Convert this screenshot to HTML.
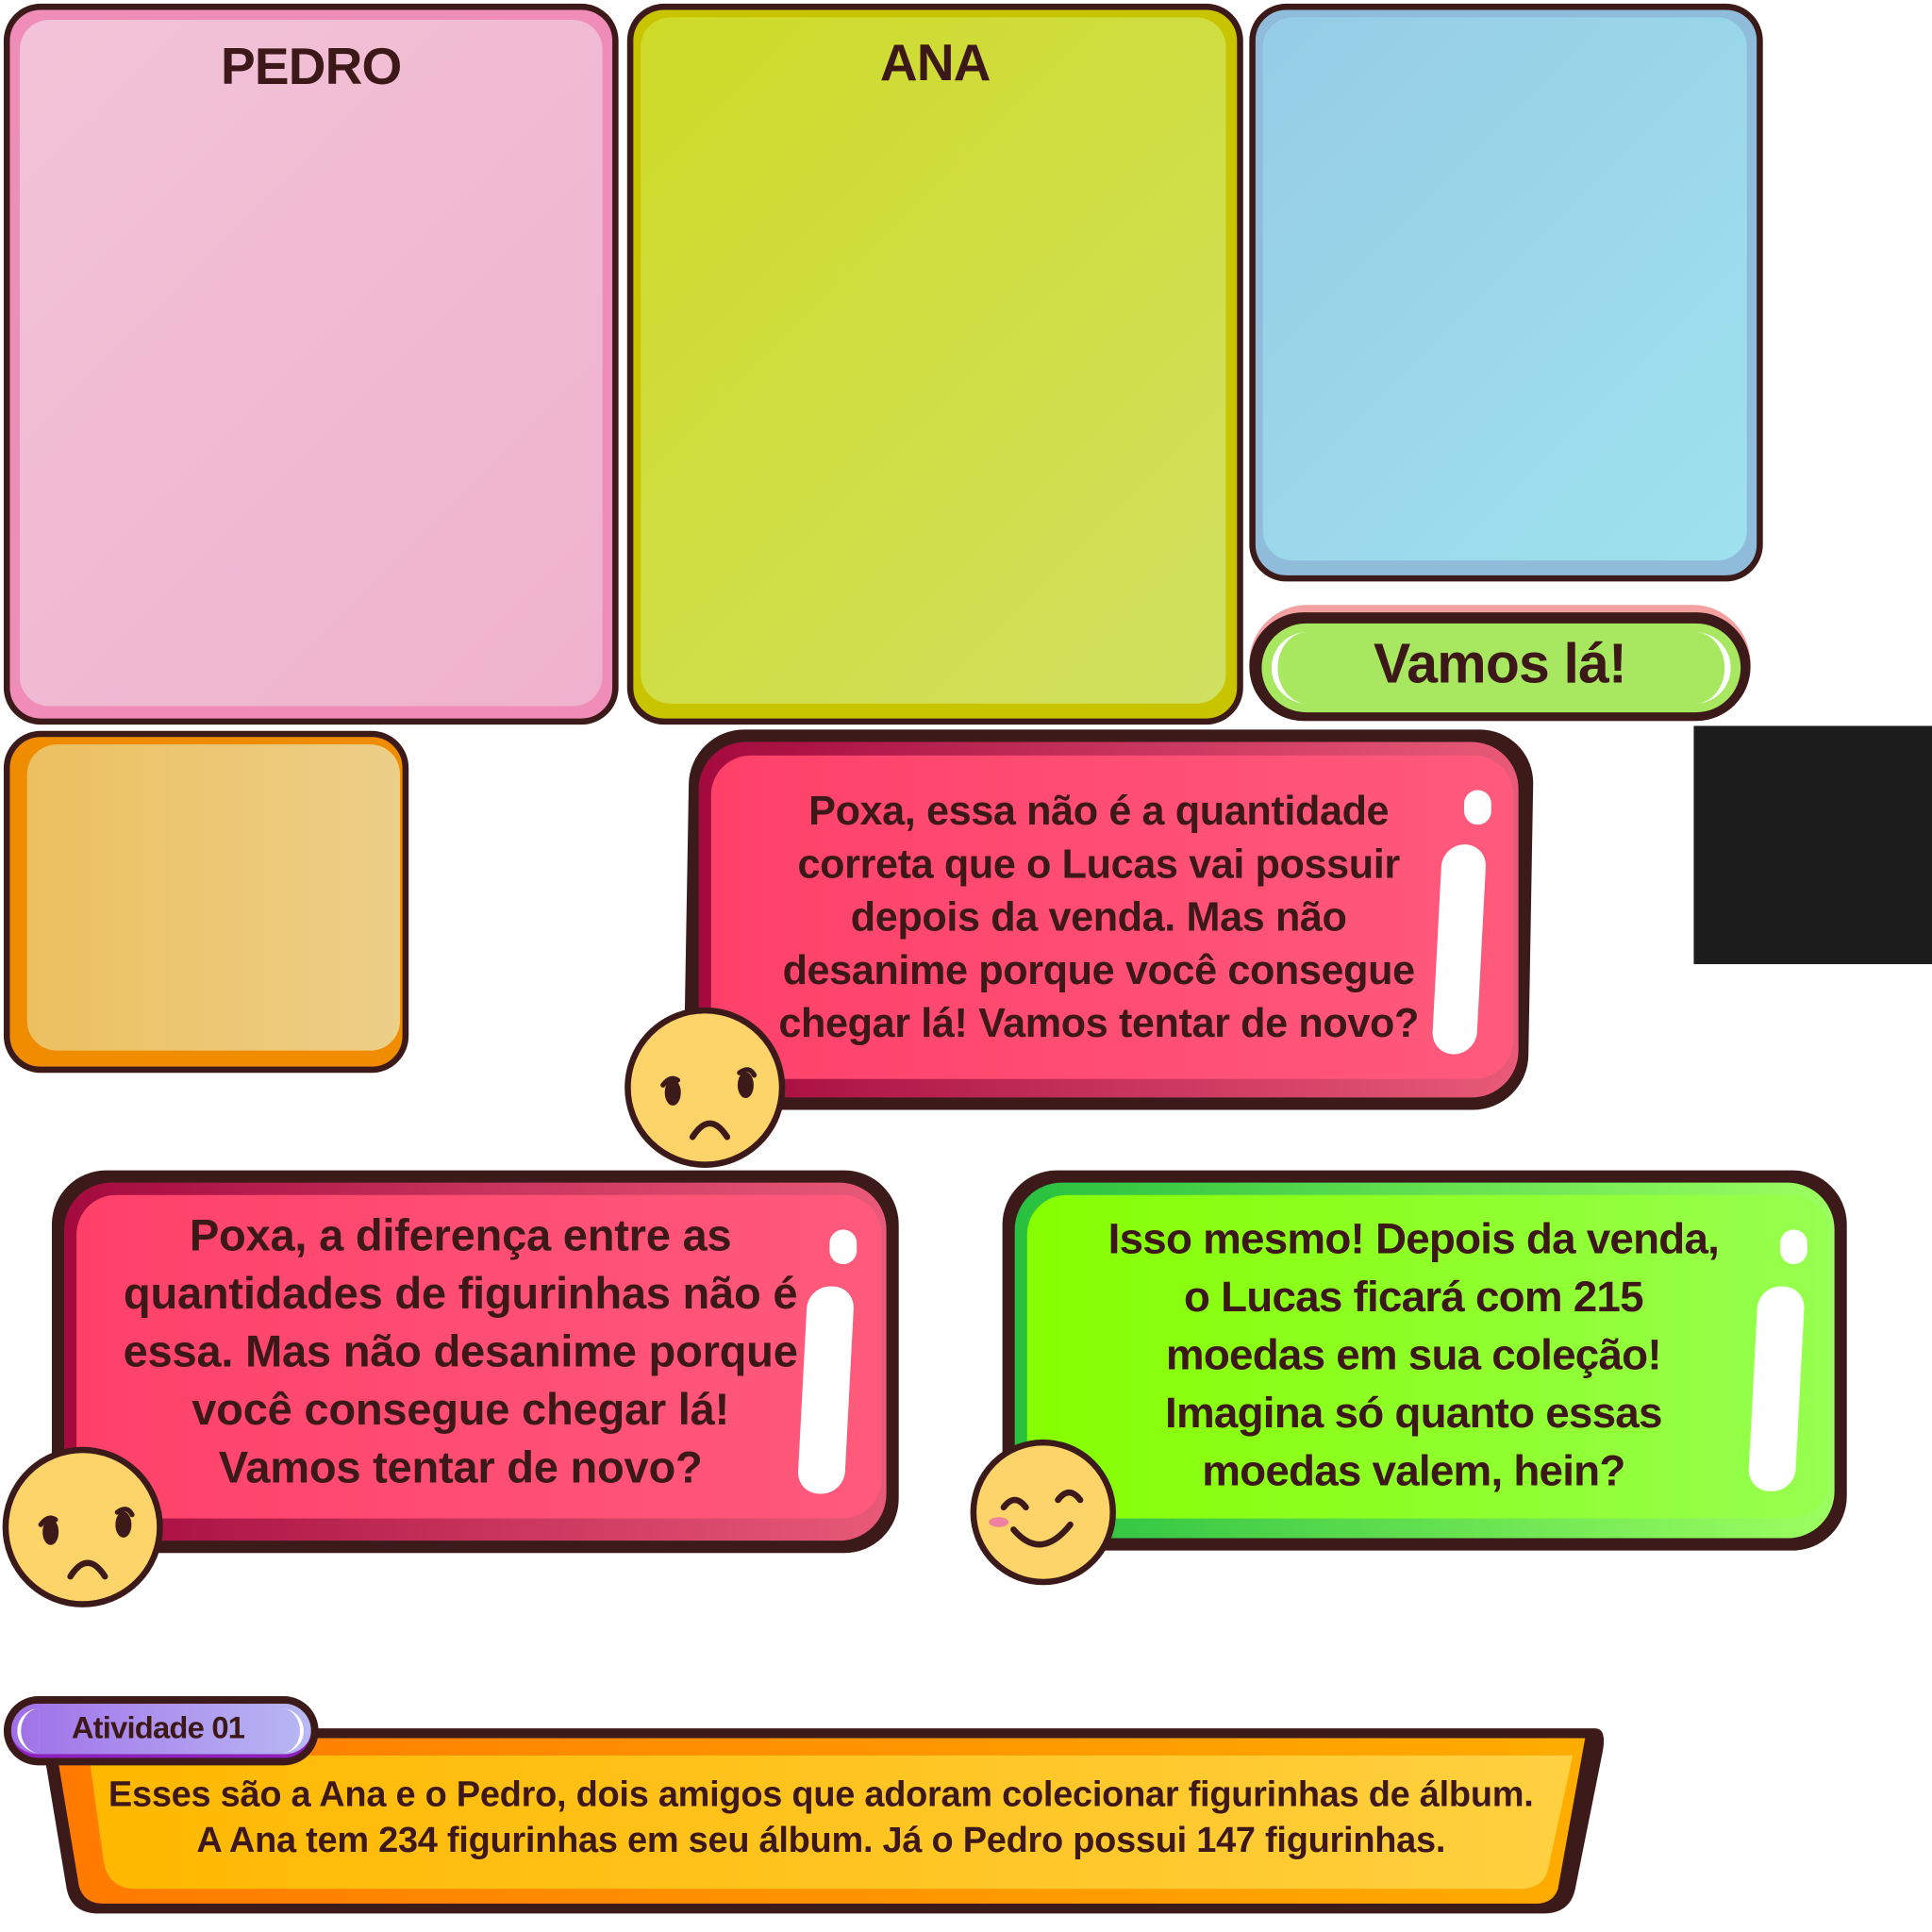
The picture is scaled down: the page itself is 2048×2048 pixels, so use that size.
<!DOCTYPE html>
<html><head><meta charset="utf-8"><style>
html,body{margin:0;padding:0;background:#fff;width:2048px;height:2048px;overflow:hidden}
#w{position:absolute;left:0;top:0;width:1565px;height:1565px;transform:scale(1.30863);transform-origin:0 0;font-family:"Liberation Sans",sans-serif;font-weight:bold;color:#3d1818}
.a{position:absolute;box-sizing:border-box}
.card{border:5px solid #3d1a1a;border-radius:30px;overflow:hidden}
.in{position:absolute;border-radius:24px}
.t{position:absolute;text-align:center;letter-spacing:-0.6px;white-space:nowrap}
.face{position:absolute;border-radius:50%;background:#fdd46a;border:5px solid #3d1a1a;box-sizing:border-box}
.gl{position:absolute;background:#fff;border-radius:12px}
</style></head><body><div id="w">

<div class="a card" style="left:3px;top:3px;width:498px;height:584px;background:#f08cb8">
 <div class="in" style="left:8px;top:8px;width:472px;height:556px;background:linear-gradient(135deg,#f2c3d8,#efb2cd)"></div>
</div>
<div class="t" style="left:3px;top:30px;width:498px;font-size:42px">PEDRO</div>

<div class="a card" style="left:508px;top:3px;width:499px;height:584px;background:#c8c400">
 <div class="in" style="left:6px;top:6px;width:474px;height:556px;background:linear-gradient(135deg,#cfdb28,#d0e060)"></div>
</div>
<div class="t" style="left:508px;top:27px;width:499px;font-size:42px">ANA</div>

<div class="a card" style="left:1012px;top:3px;width:416px;height:468px;background:#90bcdc">
 <div class="in" style="left:6px;top:6px;width:392px;height:440px;background:linear-gradient(135deg,#96cce6,#9ee2ee)"></div>
</div>

<div class="a" style="left:1012px;top:490px;width:406px;height:94px;border-radius:47px;background:#f4a0a0"></div>
<div class="a" style="left:1012px;top:496px;width:406px;height:88px;border-radius:44px;background:#3d1a1a"></div>
<div class="a" style="left:1022px;top:505px;width:388px;height:72px;border-radius:36px;background:#a8e860"></div>
<div class="a" style="left:1030px;top:512px;width:30px;height:58px;border-left:5px solid #fff;border-radius:30px 0 0 30px"></div>
<div class="a" style="left:1372px;top:512px;width:30px;height:58px;border-right:5px solid #fff;border-radius:0 30px 30px 0"></div>
<div class="t" style="left:1012px;top:512px;width:406px;font-size:45px">Vamos lá!</div>

<div class="a card" style="left:3px;top:592px;width:328px;height:277px;background:#f08c00">
 <div class="in" style="left:14px;top:6px;width:302px;height:248px;background:linear-gradient(90deg,#ecc060,#eccf88)"></div>
</div>

<div class="a" style="left:1372px;top:588px;width:193px;height:193px;background:#1c1c1c"></div>

<div class="a" style="left:556px;top:591px;width:684px;height:308px;border-radius:44px;background:#3d1a1a;transform:skewX(-1deg)"></div>
<div class="a" style="left:566px;top:601px;width:664px;height:288px;border-radius:38px;background:linear-gradient(90deg,#a40a3e,#e85a78)"></div>
<div class="a" style="left:576px;top:612px;width:650px;height:262px;border-radius:32px;background:linear-gradient(90deg,#ff416a,#ff5a7c)"></div>
<div class="gl" style="left:1186px;top:640px;width:22px;height:28px"></div>
<div class="gl" style="left:1164px;top:684px;width:36px;height:170px;transform:skewX(-3deg);border-radius:18px"></div>
<div class="t" style="left:600px;top:635px;width:580px;font-size:33px;line-height:43px;letter-spacing:-0.3px">Poxa, essa não é a quantidade<br>correta que o Lucas vai possuir<br>depois da venda. Mas não<br>desanime porque você consegue<br>chegar lá! Vamos tentar de novo?</div>
<div class="face" style="left:506px;top:816px;width:130px;height:130px">
 <svg width="120" height="120" style="position:absolute;left:0;top:0"><g fill="#3d1a1a" stroke="#3d1a1a" stroke-linecap="round">
 <ellipse cx="34" cy="64" rx="6" ry="10"/><ellipse cx="93" cy="58" rx="6" ry="10"/>
 <path d="M26 58 q6-8 12-4" fill="none" stroke-width="4"/><path d="M88 48 q8-6 12 2" fill="none" stroke-width="4"/>
 <path d="M50 100 q14-22 28 0" fill="none" stroke-width="5"/></g></svg>
</div>

<div class="a" style="left:42px;top:948px;width:686px;height:310px;border-radius:44px;background:#3d1a1a"></div>
<div class="a" style="left:52px;top:958px;width:666px;height:290px;border-radius:38px;background:linear-gradient(90deg,#a40a3e,#e85a78)"></div>
<div class="a" style="left:62px;top:968px;width:652px;height:262px;border-radius:32px;background:linear-gradient(90deg,#ff416a,#ff5a7c)"></div>
<div class="gl" style="left:672px;top:996px;width:22px;height:28px"></div>
<div class="gl" style="left:650px;top:1042px;width:38px;height:168px;transform:skewX(-3deg);border-radius:18px"></div>
<div class="t" style="left:70px;top:977px;width:606px;font-size:36px;line-height:47px;letter-spacing:-0.2px">Poxa, a diferença entre as<br>quantidades de figurinhas não é<br>essa. Mas não desanime porque<br>você consegue chegar lá!<br>Vamos tentar de novo?</div>
<div class="face" style="left:2px;top:1172px;width:130px;height:130px">
 <svg width="120" height="120" style="position:absolute;left:0;top:0"><g fill="#3d1a1a" stroke="#3d1a1a" stroke-linecap="round">
 <ellipse cx="34" cy="64" rx="6" ry="10"/><ellipse cx="93" cy="58" rx="6" ry="10"/>
 <path d="M26 58 q6-8 12-4" fill="none" stroke-width="4"/><path d="M88 48 q8-6 12 2" fill="none" stroke-width="4"/>
 <path d="M50 100 q14-22 28 0" fill="none" stroke-width="5"/></g></svg>
</div>

<div class="a" style="left:812px;top:948px;width:684px;height:308px;border-radius:44px;background:#3d1a1a"></div>
<div class="a" style="left:822px;top:958px;width:664px;height:288px;border-radius:38px;background:linear-gradient(90deg,#28c040,#9cff60)"></div>
<div class="a" style="left:832px;top:968px;width:650px;height:262px;border-radius:32px;background:linear-gradient(90deg,#86ff00,#96ff50)"></div>
<div class="gl" style="left:1442px;top:996px;width:22px;height:28px"></div>
<div class="gl" style="left:1420px;top:1042px;width:38px;height:166px;transform:skewX(-3deg);border-radius:18px"></div>
<div class="t" style="left:850px;top:980px;width:590px;font-size:35px;line-height:47px">Isso mesmo! Depois da venda,<br>o Lucas ficará com 215<br>moedas em sua coleção!<br>Imagina só quanto essas<br>moedas valem, hein?</div>
<div class="face" style="left:786px;top:1166px;width:118px;height:118px">
 <svg width="108" height="108" style="position:absolute;left:0;top:0"><g fill="none" stroke="#3d1a1a" stroke-linecap="round" stroke-width="5">
 <path d="M22 50 q9-12 18 0"/><path d="M66 44 q9-12 18 0"/><path d="M30 68 q22 26 46 -4"/></g>
 <ellipse cx="18" cy="62" rx="8" ry="4" fill="#f080a0"/></svg>
</div>

<svg class="a" style="left:0;top:1390px" width="1310" height="170">
 <path d="M34 10 L1292 10 Q1302 10 1298 30 L1276 140 Q1272 160 1250 160 L80 160 Q58 160 54 140 L34 20 Z" fill="#3d1a1a"/>
 <defs><linearGradient id="og" x1="0" x2="1"><stop offset="0" stop-color="#ff7a00"/><stop offset="1" stop-color="#ffac00"/></linearGradient>
 <linearGradient id="yg" x1="0" x2="1"><stop offset="0" stop-color="#ffb800"/><stop offset="1" stop-color="#ffd040"/></linearGradient></defs>
 <path d="M44 18 L1284 18 L1262 140 Q1258 152 1244 152 L84 152 Q68 152 64 138 Z" fill="url(#og)"/>
 <path d="M72 32 L1274 32 L1254 124 Q1250 140 1232 140 L110 140 Q88 140 84 118 Z" fill="url(#yg)"/>
</svg>
<div class="t" style="left:40px;top:1436px;width:1250px;font-size:29px;line-height:37px;letter-spacing:-0.2px">Esses são a Ana e o Pedro, dois amigos que adoram colecionar figurinhas de álbum.<br>A Ana tem 234 figurinhas em seu álbum. Já o Pedro possui 147 figurinhas.</div>

<div class="a" style="left:3px;top:1374px;width:255px;height:56px;border-radius:28px;background:#3d1a1a"></div>
<div class="a" style="left:9px;top:1380px;width:243px;height:44px;border-radius:22px;background:linear-gradient(90deg,#a070e8,#b8b8f4);border-bottom:3px solid #9020c0"></div>
<div class="a" style="left:14px;top:1384px;width:18px;height:36px;border-left:3px solid #fff;border-radius:18px 0 0 18px"></div>
<div class="a" style="left:228px;top:1384px;width:18px;height:36px;border-right:3px solid #fff;border-radius:0 18px 18px 0"></div>
<div class="t" style="left:3px;top:1386px;width:250px;font-size:25px">Atividade 01</div>

</div></body></html>
